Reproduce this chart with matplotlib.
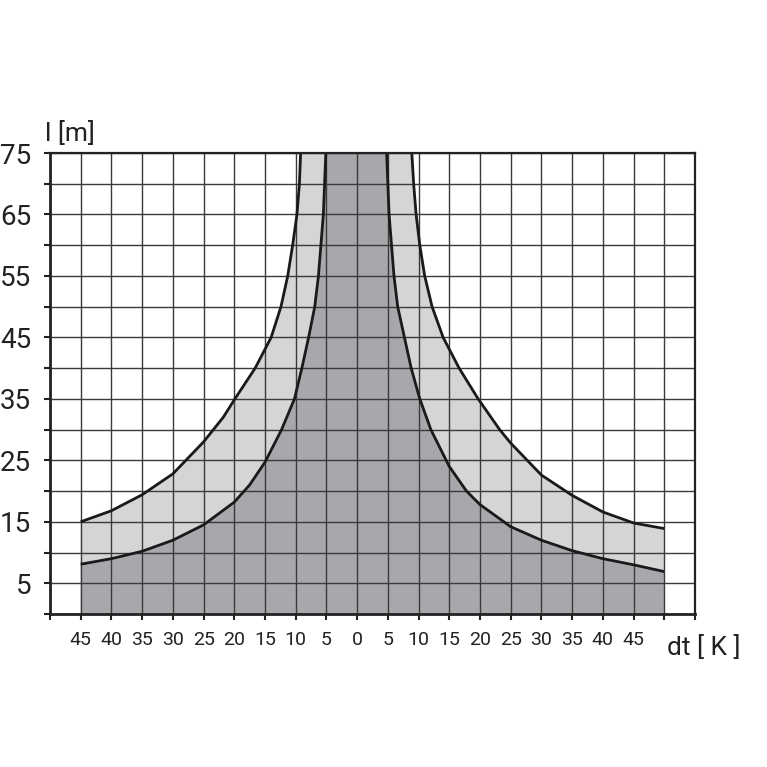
"""Allowed pipe length l vs temperature difference dt (light/dark zones)."""

import matplotlib
matplotlib.use("Agg")
import matplotlib.pyplot as plt

plt.rcParams["font.family"] = ["Roboto", "DejaVu Sans"]

# outer boundary (light grey zone)
outer_left_x = [-45, -40, -35, -30, -25, -23.4, -21.8, -19.9, -16.6, -14.0, -12.4, -11.3, -10.5, -9.8, -9.4, -9.2]
outer_left_y = [15, 16.8, 19.4, 22.8, 28, 30, 32, 35, 40, 45, 50, 55, 60, 65, 70, 75]
outer_right_x = [8.9, 9.2, 9.6, 10.2, 11.0, 12.2, 14.0, 16.6, 19.7, 23.2, 25, 30, 35, 40, 45, 50]
outer_right_y = [75, 70, 65, 60, 55, 50, 45, 40, 35, 30, 27.8, 22.6, 19.3, 16.6, 14.8, 13.9]

# inner boundary (dark grey zone)
inner_left_x = [-45, -40, -35, -30, -25, -20, -17.5, -15, -12.3, -10.2, -9.0, -7.9, -6.9, -6.3, -5.9, -5.5, -5.3, -5.1]
inner_left_y = [8.1, 9.0, 10.2, 12.0, 14.5, 18.2, 21, 24.7, 30, 35, 40, 45, 50, 55, 60, 65, 70, 75]
inner_right_x = [4.8, 5.0, 5.2, 5.6, 6.0, 6.6, 7.7, 8.8, 10.2, 12.0, 15.0, 17.8, 20, 25, 30, 35, 40, 45, 50]
inner_right_y = [75, 70, 65, 60, 55, 50, 45, 40, 35, 30, 24.0, 20, 17.8, 14.2, 12.0, 10.3, 9.0, 8.0, 6.9]

x_ticks = list(range(-50, 56, 5))
x_labels = ["" if t in (-50, 50, 55) else str(abs(t)) for t in x_ticks]
y_ticks = list(range(0, 76, 5))
y_labels = [str(t) if t % 10 == 5 else "" for t in y_ticks]

LIGHT = "#d4d5d7"
DARK = "#a7a8ab"
INK = "#222222"

fig = plt.figure(figsize=(7.67, 7.67), dpi=100)
ax = fig.add_axes([0.0652, 0.1995, 0.8409, 0.601])

x_lo, x_hi = outer_left_x[0], outer_right_x[-1]

# light zone polygon
ox = outer_left_x + outer_right_x + [x_hi, x_lo]
oy = outer_left_y + outer_right_y + [0, 0]
ax.fill(ox, oy, color=LIGHT, lw=0, zorder=1)

# dark zone polygon
ix = inner_left_x + inner_right_x + [x_hi, x_lo]
iy = inner_left_y + inner_right_y + [0, 0]
ax.fill(ix, iy, color=DARK, lw=0, zorder=2)

# grid drawn over the fills
for t in x_ticks:
    ax.axvline(t, color="#3a3a3a", lw=1.0, zorder=3)
for t in y_ticks:
    ax.axhline(t, color="#3a3a3a", lw=1.0, zorder=3)

for xs, ys in [(outer_left_x, outer_left_y), (outer_right_x, outer_right_y),
               (inner_left_x, inner_left_y), (inner_right_x, inner_right_y)]:
    ax.plot(xs, ys, color="#1a1a1a", lw=2.0, zorder=4,
            solid_capstyle="butt", solid_joinstyle="round")

ax.set_xlim(-50, 55)
ax.set_ylim(0, 75)
ax.set_xticks(x_ticks)
ax.set_xticklabels(x_labels, fontsize=14, color=INK)
ax.set_yticks(y_ticks)
ax.set_yticklabels(y_labels, fontsize=20, color=INK)
ax.tick_params(axis="both", direction="out", length=4.5, width=1.5, color=INK)
ax.tick_params(axis="x", pad=8)
ax.tick_params(axis="y", pad=9)

for side in ["left", "bottom"]:
    ax.spines[side].set_linewidth(2.0)
for side in ["top", "right"]:
    ax.spines[side].set_linewidth(1.6)
for sp in ax.spines.values():
    sp.set_color(INK)
    sp.set_zorder(5)

fig.text(45 / 767, 1 - 141 / 767, "l [m]", fontsize=19, color=INK,
         ha="left", va="baseline")
fig.text(667 / 767, 1 - 655 / 767, "dt [ K ]", fontsize=19, color=INK,
         ha="left", va="baseline")

fig.savefig("out.png", dpi=100)
plt.close(fig)
